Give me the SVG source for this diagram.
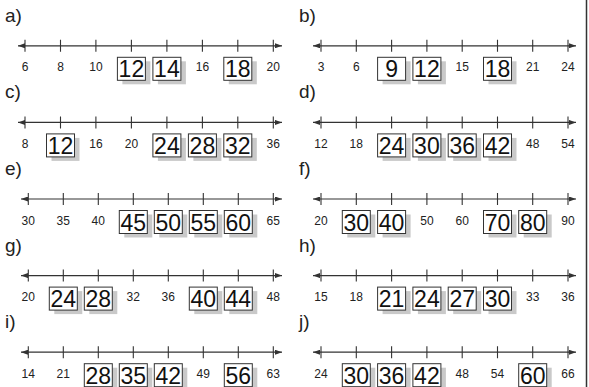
<svg xmlns="http://www.w3.org/2000/svg" width="589" height="387" viewBox="0 0 589 387">
<style>
.ln{stroke:#333;stroke-width:1.2;fill:none}
.tk{stroke:#333;stroke-width:1.1;fill:none}
.lb{font-family:"Liberation Sans Narrow","Liberation Sans",Arial,sans-serif;font-size:12px;fill:#222;text-anchor:middle}
.hd{font-family:"Liberation Sans",Arial,sans-serif;font-size:19px;fill:#222}
.sh{fill:#c9c9c9}
.bx{fill:#fff;stroke:#333;stroke-width:1}
.bn{font-family:"Liberation Sans",Arial,sans-serif;font-size:23px;fill:#111;text-anchor:middle}
</style>
<defs>
<marker id="ah" viewBox="0 0 7 5" refX="7" refY="2.5" markerWidth="7" markerHeight="5" markerUnits="userSpaceOnUse" orient="auto-start-reverse"><path d="M0 0L7 2.5L0 5z" fill="#333"/></marker>
<g id="bxs"><rect class="sh" x="-9" y="15.5" width="28" height="23"/><rect class="bx" x="-14" y="11.5" width="28" height="23"/></g>
</defs>
<line x1="586.5" y1="0" x2="586.5" y2="387" stroke="#333" stroke-width="1.5"/>

<g id="row-a" transform="translate(0,45.8)">
<text class="hd" x="5" y="-24">a)</text>
<line class="ln" x1="18" y1="0" x2="282" y2="0" marker-start="url(#ah)" marker-end="url(#ah)"/>
<path class="tk" d="M25-6v12M60.5-6v12M95.9-6v12M131.4-6v12M166.9-6v12M202.4-6v12M237.8-6v12M273.3-6v12"/>
<text class="lb" x="25" y="25.5">6</text><text class="lb" x="60.5" y="25.5">8</text><text class="lb" x="95.9" y="25.5">10</text><text class="lb" x="202.4" y="25.5">16</text><text class="lb" x="273.3" y="25.5">20</text>
<g transform="translate(131.4,0)"><use href="#bxs"/><text class="bn" y="31.5">12</text></g>
<g transform="translate(166.9,0)"><use href="#bxs"/><text class="bn" y="31.5">14</text></g>
<g transform="translate(237.8,0)"><use href="#bxs"/><text class="bn" y="31.5">18</text></g>
</g>

<g id="row-c" transform="translate(0,122.4)">
<text class="hd" x="5" y="-24">c)</text>
<line class="ln" x1="18" y1="0" x2="282" y2="0" marker-start="url(#ah)" marker-end="url(#ah)"/>
<path class="tk" d="M25-6v12M60.5-6v12M95.9-6v12M131.4-6v12M166.9-6v12M202.4-6v12M237.8-6v12M273.3-6v12"/>
<text class="lb" x="25" y="25.5">8</text><text class="lb" x="95.9" y="25.5">16</text><text class="lb" x="131.4" y="25.5">20</text><text class="lb" x="273.3" y="25.5">36</text>
<g transform="translate(60.5,0)"><use href="#bxs"/><text class="bn" y="31.5">12</text></g>
<g transform="translate(166.9,0)"><use href="#bxs"/><text class="bn" y="31.5">24</text></g>
<g transform="translate(202.4,0)"><use href="#bxs"/><text class="bn" y="31.5">28</text></g>
<g transform="translate(237.8,0)"><use href="#bxs"/><text class="bn" y="31.5">32</text></g>
</g>

<g id="row-e" transform="translate(0,199)">
<text class="hd" x="5" y="-24">e)</text>
<line class="ln" x1="21" y1="0" x2="282" y2="0" marker-start="url(#ah)" marker-end="url(#ah)"/>
<path class="tk" d="M28.3-6v12M63.3-6v12M98.3-6v12M133.3-6v12M168.3-6v12M203.3-6v12M238.3-6v12M273.3-6v12"/>
<text class="lb" x="28.3" y="25.5">30</text><text class="lb" x="63.3" y="25.5">35</text><text class="lb" x="98.3" y="25.5">40</text><text class="lb" x="273.3" y="25.5">65</text>
<g transform="translate(133.3,0)"><use href="#bxs"/><text class="bn" y="31.5">45</text></g>
<g transform="translate(168.3,0)"><use href="#bxs"/><text class="bn" y="31.5">50</text></g>
<g transform="translate(203.3,0)"><use href="#bxs"/><text class="bn" y="31.5">55</text></g>
<g transform="translate(238.3,0)"><use href="#bxs"/><text class="bn" y="31.5">60</text></g>
</g>

<g id="row-g" transform="translate(0,275.6)">
<text class="hd" x="5" y="-24">g)</text>
<line class="ln" x1="21" y1="0" x2="282" y2="0" marker-start="url(#ah)" marker-end="url(#ah)"/>
<path class="tk" d="M28.3-6v12M63.3-6v12M98.3-6v12M133.3-6v12M168.3-6v12M203.3-6v12M238.3-6v12M273.3-6v12"/>
<text class="lb" x="28.3" y="25.5">20</text><text class="lb" x="133.3" y="25.5">32</text><text class="lb" x="168.3" y="25.5">36</text><text class="lb" x="273.3" y="25.5">48</text>
<g transform="translate(63.3,0)"><use href="#bxs"/><text class="bn" y="31.5">24</text></g>
<g transform="translate(98.3,0)"><use href="#bxs"/><text class="bn" y="31.5">28</text></g>
<g transform="translate(203.3,0)"><use href="#bxs"/><text class="bn" y="31.5">40</text></g>
<g transform="translate(238.3,0)"><use href="#bxs"/><text class="bn" y="31.5">44</text></g>
</g>

<g id="row-i" transform="translate(0,352.2)">
<text class="hd" x="5" y="-24">i)</text>
<line class="ln" x1="21" y1="0" x2="282" y2="0" marker-start="url(#ah)" marker-end="url(#ah)"/>
<path class="tk" d="M28.3-6v12M63.3-6v12M98.3-6v12M133.3-6v12M168.3-6v12M203.3-6v12M238.3-6v12M273.3-6v12"/>
<text class="lb" x="28.3" y="25.5">14</text><text class="lb" x="63.3" y="25.5">21</text><text class="lb" x="203.3" y="25.5">49</text><text class="lb" x="273.3" y="25.5">63</text>
<g transform="translate(98.3,0)"><use href="#bxs"/><text class="bn" y="31.5">28</text></g>
<g transform="translate(133.3,0)"><use href="#bxs"/><text class="bn" y="31.5">35</text></g>
<g transform="translate(168.3,0)"><use href="#bxs"/><text class="bn" y="31.5">42</text></g>
<g transform="translate(238.3,0)"><use href="#bxs"/><text class="bn" y="31.5">56</text></g>
</g>

<g id="row-b" transform="translate(0,45.8)">
<text class="hd" x="299" y="-24">b)</text>
<line class="ln" x1="313" y1="0" x2="576" y2="0" marker-start="url(#ah)" marker-end="url(#ah)"/>
<path class="tk" d="M321-6v12M356.3-6v12M391.6-6v12M426.9-6v12M462.2-6v12M497.5-6v12M532.7-6v12M568-6v12"/>
<text class="lb" x="321" y="25.5">3</text><text class="lb" x="356.3" y="25.5">6</text><text class="lb" x="462.2" y="25.5">15</text><text class="lb" x="532.7" y="25.5">21</text><text class="lb" x="568" y="25.5">24</text>
<g transform="translate(391.6,0)"><use href="#bxs"/><text class="bn" y="31.5">9</text></g>
<g transform="translate(426.9,0)"><use href="#bxs"/><text class="bn" y="31.5">12</text></g>
<g transform="translate(497.5,0)"><use href="#bxs"/><text class="bn" y="31.5">18</text></g>
</g>

<g id="row-d" transform="translate(0,122.4)">
<text class="hd" x="299" y="-24">d)</text>
<line class="ln" x1="313" y1="0" x2="576" y2="0" marker-start="url(#ah)" marker-end="url(#ah)"/>
<path class="tk" d="M321-6v12M356.3-6v12M391.6-6v12M426.9-6v12M462.2-6v12M497.5-6v12M532.7-6v12M568-6v12"/>
<text class="lb" x="321" y="25.5">12</text><text class="lb" x="356.3" y="25.5">18</text><text class="lb" x="532.7" y="25.5">48</text><text class="lb" x="568" y="25.5">54</text>
<g transform="translate(391.6,0)"><use href="#bxs"/><text class="bn" y="31.5">24</text></g>
<g transform="translate(426.9,0)"><use href="#bxs"/><text class="bn" y="31.5">30</text></g>
<g transform="translate(462.2,0)"><use href="#bxs"/><text class="bn" y="31.5">36</text></g>
<g transform="translate(497.5,0)"><use href="#bxs"/><text class="bn" y="31.5">42</text></g>
</g>

<g id="row-f" transform="translate(0,199)">
<text class="hd" x="299" y="-24">f)</text>
<line class="ln" x1="313" y1="0" x2="576" y2="0" marker-start="url(#ah)" marker-end="url(#ah)"/>
<path class="tk" d="M321-6v12M356.3-6v12M391.6-6v12M426.9-6v12M462.2-6v12M497.5-6v12M532.7-6v12M568-6v12"/>
<text class="lb" x="321" y="25.5">20</text><text class="lb" x="426.9" y="25.5">50</text><text class="lb" x="462.2" y="25.5">60</text><text class="lb" x="568" y="25.5">90</text>
<g transform="translate(356.3,0)"><use href="#bxs"/><text class="bn" y="31.5">30</text></g>
<g transform="translate(391.6,0)"><use href="#bxs"/><text class="bn" y="31.5">40</text></g>
<g transform="translate(497.5,0)"><use href="#bxs"/><text class="bn" y="31.5">70</text></g>
<g transform="translate(532.7,0)"><use href="#bxs"/><text class="bn" y="31.5">80</text></g>
</g>

<g id="row-h" transform="translate(0,275.6)">
<text class="hd" x="299" y="-24">h)</text>
<line class="ln" x1="313" y1="0" x2="576" y2="0" marker-start="url(#ah)" marker-end="url(#ah)"/>
<path class="tk" d="M321-6v12M356.3-6v12M391.6-6v12M426.9-6v12M462.2-6v12M497.5-6v12M532.7-6v12M568-6v12"/>
<text class="lb" x="321" y="25.5">15</text><text class="lb" x="356.3" y="25.5">18</text><text class="lb" x="532.7" y="25.5">33</text><text class="lb" x="568" y="25.5">36</text>
<g transform="translate(391.6,0)"><use href="#bxs"/><text class="bn" y="31.5">21</text></g>
<g transform="translate(426.9,0)"><use href="#bxs"/><text class="bn" y="31.5">24</text></g>
<g transform="translate(462.2,0)"><use href="#bxs"/><text class="bn" y="31.5">27</text></g>
<g transform="translate(497.5,0)"><use href="#bxs"/><text class="bn" y="31.5">30</text></g>
</g>

<g id="row-j" transform="translate(0,352.2)">
<text class="hd" x="299" y="-24">j)</text>
<line class="ln" x1="313" y1="0" x2="576" y2="0" marker-start="url(#ah)" marker-end="url(#ah)"/>
<path class="tk" d="M321-6v12M356.3-6v12M391.6-6v12M426.9-6v12M462.2-6v12M497.5-6v12M532.7-6v12M568-6v12"/>
<text class="lb" x="321" y="25.5">24</text><text class="lb" x="462.2" y="25.5">48</text><text class="lb" x="497.5" y="25.5">54</text><text class="lb" x="568" y="25.5">66</text>
<g transform="translate(356.3,0)"><use href="#bxs"/><text class="bn" y="31.5">30</text></g>
<g transform="translate(391.6,0)"><use href="#bxs"/><text class="bn" y="31.5">36</text></g>
<g transform="translate(426.9,0)"><use href="#bxs"/><text class="bn" y="31.5">42</text></g>
<g transform="translate(532.7,0)"><use href="#bxs"/><text class="bn" y="31.5">60</text></g>
</g>
</svg>
